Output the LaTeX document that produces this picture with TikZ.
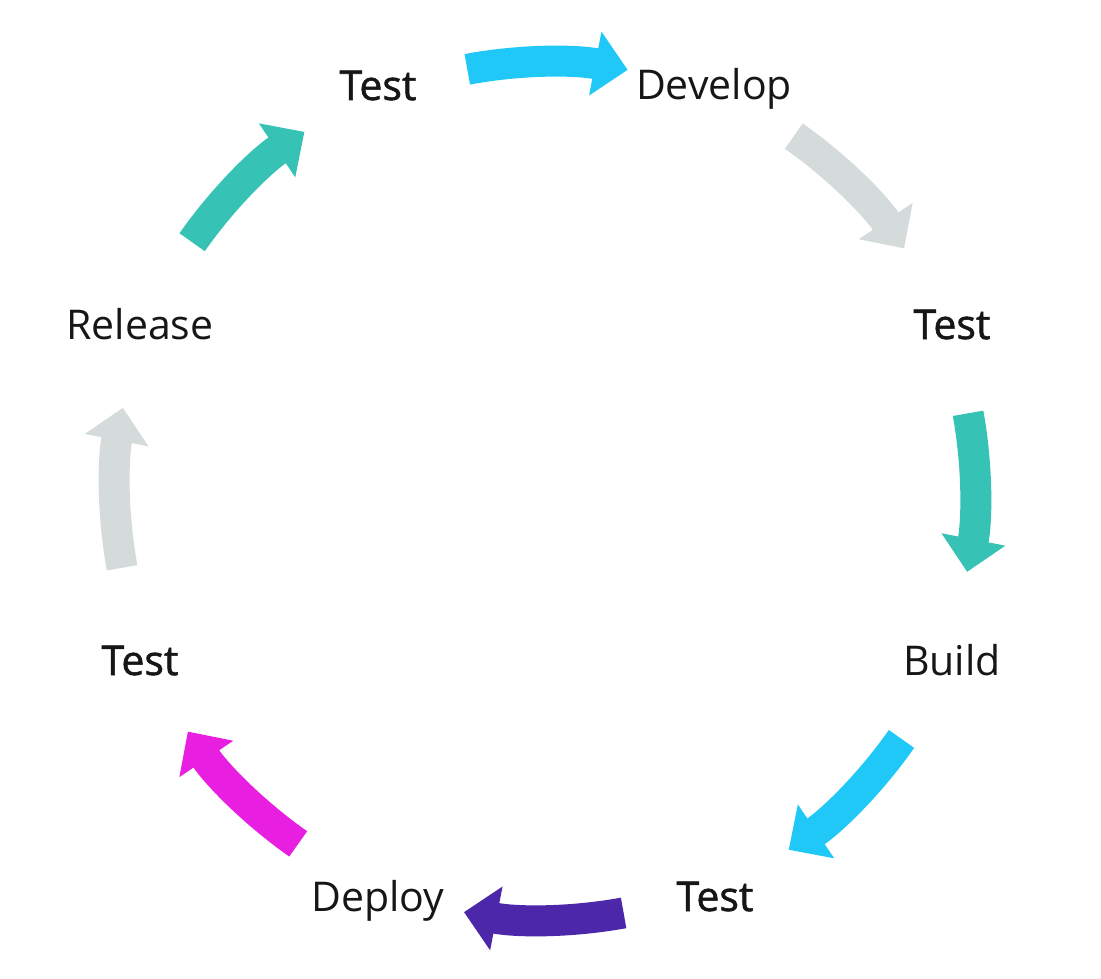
\documentclass[tikz,border=0pt]{standalone}
\usepackage{fontspec}
\setmainfont{Open Sans}
\newfontfamily\semib[FakeBold=1.3]{Open Sans}
\usetikzlibrary{arrows.meta}
\definecolor{ccyan}{HTML}{1FC8F6}
\definecolor{cgray}{HTML}{D5DBDB}
\definecolor{cteal}{HTML}{36C2B4}
\definecolor{cpurple}{HTML}{4D27AA}
\definecolor{cmag}{HTML}{E81EE0}
\definecolor{ctext}{HTML}{161616}
\begin{document}
\begin{tikzpicture}[x=1pt,y=1pt,
  lbl/.style={anchor=base,inner sep=0pt,text=ctext,font=\fontsize{41}{48}\selectfont},
  tlbl/.style={lbl,font=\fontsize{41}{48}\selectfont\semib},
  cyc/.style={line width=31pt,-{Triangle[length=33pt,width=63pt]}}]
\useasboundingbox (0,0) rectangle (1101,-979);
\coordinate (C) at (546,-490);
\node[tlbl] (t1) at (378,-100) {Test};
\node[lbl]  (dev) at (714,-100) {Develop};
\node[tlbl] (t2) at (952,-339) {Test};
\node[lbl]  (bld) at (952,-675) {Build};
\node[tlbl] (t3) at (715,-911) {Test};
\node[lbl]  (dep) at (378,-911) {Deploy};
\node[tlbl] (t4) at (140,-675) {Test};
\node[lbl]  (rel) at (140,-339) {Release};
\draw[cyc,ccyan]   (C) ++(100.6:428pt) arc[start angle=100.6,end angle=79,radius=428pt];
\draw[cyc,cgray]   (C) ++(55:432pt) arc[start angle=55,end angle=34,radius=432pt];
\draw[cyc,cteal]   (C) ++(10.3:429pt) arc[start angle=10.3,end angle=-11,radius=429pt];
\draw[cyc,ccyan]   (C) ++(-35:434pt) arc[start angle=-35,end angle=-56,radius=434pt];
\draw[cyc,cpurple] (C) ++(-79.6:430pt) arc[start angle=-79.6,end angle=-101,radius=430pt];
\draw[cyc,cmag]    (C) ++(-125:432pt) arc[start angle=-125,end angle=-146,radius=432pt];
\draw[cyc,cgray]   (C) ++(-169.6:431pt) arc[start angle=-169.6,end angle=-191,radius=431pt];
\draw[cyc,cteal]   (C) ++(145:432pt) arc[start angle=145,end angle=124,radius=432pt];
\end{tikzpicture}
\end{document}
